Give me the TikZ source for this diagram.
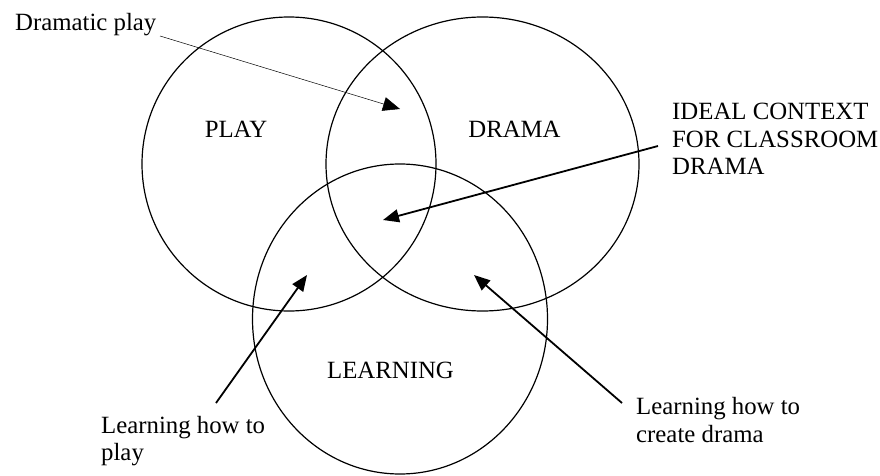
\documentclass[tikz,border=0pt]{standalone}
\usepackage{fontspec}
\setmainfont{Liberation Serif}
\usetikzlibrary{arrows.meta,shapes.geometric}
\begin{document}
\begin{tikzpicture}[x=1pt,y=-1pt,
  ring/.style={draw, ellipse, inner sep=0pt, line width=1.2pt},
  lbl/.style={inner sep=0pt, font=\fontsize{24.8}{27.5}\selectfont},
  thinarrow/.style={line width=0.5pt, -{Triangle[length=17pt,width=14pt]}},
  thickarrow/.style={line width=1.8pt, -{Triangle[length=16pt,width=13pt]}}]
\useasboundingbox (0,0) rectangle (880,476);
% circles
\node[ring, minimum width=294pt, minimum height=294pt] (play) at (289,164) {};
\node[ring, minimum width=313pt, minimum height=294pt] (drama) at (482.5,164) {};
\node[ring, minimum width=295pt, minimum height=310pt] (learn) at (400,319) {};
% labels
\node[lbl, anchor=base] (tplay) at (236,138) {PLAY};
\node[lbl, anchor=base] (tdrama) at (514.5,138) {DRAMA};
\node[lbl, anchor=base] (tlearn) at (390.5,378) {LEARNING};
\node[lbl, anchor=base west] (tdp) at (15,31) {Dramatic play};
\node[lbl, anchor=north west, align=left] (tideal) at (672,103) {IDEAL CONTEXT\\FOR CLASSROOM\\DRAMA};
\node[lbl, anchor=north west, align=left] (tlhp) at (101,416) {Learning how to\\play};
\node[lbl, anchor=north west, align=left] (tlcd) at (636,397.5) {Learning how to\\create drama};
% arrow ends
\coordinate (dps) at (160,36);
\coordinate (dpe) at (400,109);
\coordinate (ids) at (658,146);
\coordinate (ide) at (383,220);
\coordinate (lps) at (216,403);
\coordinate (lpe) at (307,275);
\coordinate (lcs) at (622,403);
\coordinate (lce) at (474,275);
\draw[thinarrow] (dps) -- (dpe);
\draw[thickarrow] (ids) -- (ide);
\draw[thickarrow] (lps) -- (lpe);
\draw[thickarrow] (lcs) -- (lce);
\end{tikzpicture}
\end{document}
